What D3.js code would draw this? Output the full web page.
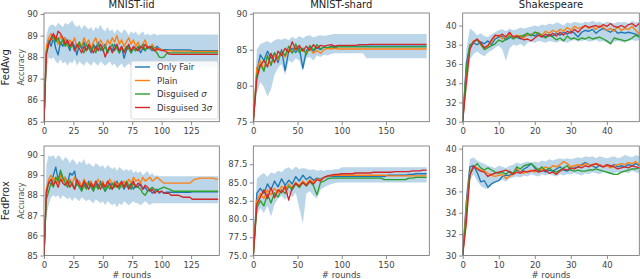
<!DOCTYPE html>
<html>
<head>
<meta charset="utf-8">
<script src="https://cdn.jsdelivr.net/npm/d3@7"></script>
<style>
  body { margin: 0; background: #fff; }
  svg { display: block; font-family: "DejaVu Sans", sans-serif; }
</style>
</head>
<body>
<svg id="chart" width="640" height="279"></svg>
<script>
// ---- data ----
const seriesNames = ["Only Fair", "Plain", "Disguised σ", "Disguised 3σ"];
const colTitles = ["MNIST-iid", "MNIST-shard", "Shakespeare"];
const rowTitles = ["FedAvg", "FedProx"];
const roundSteps = [2, 4, 1];       // rounds between stored points, per column
const roundMax = [149, 199, 49];

const xTicks = [[0, 25, 50, 75, 100, 125], [0, 50, 100, 150], [0, 10, 20, 30, 40]];
const yTicks = [
  [85, 86, 87, 88, 89, 90], [75, 80, 85, 90], [30, 32, 34, 36, 38, 40],
  [85, 86, 87, 88, 89, 90], [75, 77.5, 80, 82.5, 85, 87.5], [30, 32, 34, 36, 38, 40]
];
const yDomains = [[85, 90.05], [75, 90.1], [30, 41.3], [85, 90.45], [75, 90.0], [30, 40.25]];

// FedAvg / MNIST-iid (every 2 rounds)
const avgIidFair = [85.0, 88.3, 88.8, 88.5, 88.9, 88.4, 88.1, 88.7, 88.5, 88.9,
  88.6, 88.3, 88.7, 88.5, 88.1, 88.6, 88.4, 88.7, 88.3, 88.5,
  88.2, 88.6, 88.4, 88.7, 88.3, 88.5, 88.6, 88.2, 88.5, 88.3,
  88.6, 88.4, 88.2, 88.5, 87.95, 88.3, 88.5, 88.2, 88.4, 88.3,
  88.5, 88.2, 88.4, 88.3, 88.5, 88.4, 88.3, 88.4, 88.5, 88.4,
  88.35, 88.35, 88.35, 88.33, 88.33, 88.33, 88.33, 88.33, 88.33, 88.33,
  88.33, 88.33, 88.33, 88.3, 88.3, 88.3, 88.3, 88.3, 88.3, 88.3,
  88.3, 88.3, 88.3, 88.3, 88.3];
const avgIidPlain = [85.0, 88.5, 88.9, 89.1, 88.8, 89.0, 88.6, 89.0, 88.7, 88.9,
  88.5, 88.8, 88.6, 88.9, 88.4, 88.7, 88.5, 88.9, 88.6, 88.8,
  88.4, 88.7, 88.9, 88.5, 88.8, 88.6, 88.4, 88.8, 88.6, 88.9,
  88.7, 89.0, 88.6, 88.8, 88.5, 88.7, 88.9, 88.6, 88.8, 88.5,
  88.7, 88.4, 88.6, 88.8, 88.5, 88.4, 88.6, 88.4, 88.3, 88.4,
  88.35, 88.3, 88.3, 88.3, 88.3, 88.28, 88.28, 88.28, 88.28, 88.28,
  88.28, 88.28, 88.28, 88.26, 88.26, 88.26, 88.26, 88.26, 88.26, 88.26,
  88.26, 88.26, 88.26, 88.26, 88.26];
const avgIidSigma = [85.0, 88.2, 88.6, 88.8, 89.0, 88.7, 88.9, 88.6, 88.8, 88.5,
  88.7, 88.4, 88.6, 88.3, 88.5, 88.7, 88.4, 88.2, 88.6, 88.4,
  88.3, 88.5, 88.2, 88.6, 88.4, 88.3, 88.5, 88.2, 88.4, 88.6,
  88.3, 88.5, 88.2, 88.4, 88.3, 88.5, 88.4, 88.2, 88.4, 88.3,
  88.5, 88.4, 88.6, 88.3, 88.5, 88.4, 88.5, 88.3, 88.2, 88.0,
  87.98, 88.0, 88.15, 88.2, 88.2, 88.2, 88.2, 88.2, 88.2, 88.2,
  88.2, 88.2, 88.2, 88.2, 88.2, 88.2, 88.2, 88.2, 88.2, 88.2,
  88.2, 88.2, 88.2, 88.2, 88.2];
const avgIid3Sigma = [85.0, 88.1, 88.6, 88.9, 89.1, 88.8, 89.2, 89.1, 88.9, 88.6,
  88.8, 88.5, 88.7, 88.3, 88.6, 88.4, 88.2, 88.5, 88.3, 88.6,
  88.4, 88.2, 88.5, 88.3, 88.6, 88.4, 88.0, 88.3, 88.5, 88.2,
  88.4, 88.6, 88.3, 88.5, 88.2, 88.4, 88.6, 88.3, 88.5, 88.4,
  88.3, 88.5, 88.4, 88.6, 88.4, 88.5, 88.4, 88.3, 88.4, 88.35,
  88.3, 88.3, 88.25, 88.15, 88.13, 88.13, 88.13, 88.13, 88.13, 88.13,
  88.13, 88.13, 88.13, 88.13, 88.13, 88.13, 88.13, 88.13, 88.13, 88.13,
  88.13, 88.13, 88.13, 88.13, 88.13];
const avgIidHigh = [85.0, 89.0, 89.4, 89.5, 89.5, 89.4, 89.6, 89.5, 89.4, 89.6,
  89.5, 89.6, 89.7, 89.5, 89.4, 89.5, 89.3, 89.5, 89.4, 89.3,
  89.4, 89.2, 89.4, 89.3, 89.5, 89.3, 89.2, 89.4, 89.2, 89.3,
  89.1, 89.3, 89.2, 89.1, 89.3, 89.2, 89.0, 89.2, 89.1, 89.2,
  89.0, 89.1, 89.2, 89.0, 89.1, 89.0, 89.05, 89.1, 89.0, 89.05,
  89.05, 89.05, 89.05, 89.05, 89.05, 89.05, 89.05, 89.05, 89.05, 89.05,
  89.05, 89.05, 89.05, 89.05, 89.05, 89.05, 89.05, 89.05, 89.05, 89.05,
  89.05, 89.05, 89.05, 89.05, 89.05];
const avgIidLow = [85.0, 87.4, 88.0, 87.9, 88.0, 87.8, 87.7, 87.9, 87.7, 87.8,
  87.6, 87.8, 87.7, 87.9, 87.6, 87.8, 87.7, 87.6, 87.8, 87.7,
  87.6, 87.8, 87.7, 87.6, 87.8, 87.7, 87.6, 87.7, 87.8, 87.6,
  87.7, 87.5, 87.6, 87.7, 87.5, 87.6, 87.7, 87.6, 87.5, 87.6,
  87.6, 87.5, 87.6, 87.7, 87.6, 87.5, 87.6, 87.5, 87.6, 87.55,
  87.55, 87.55, 87.55, 87.55, 87.55, 87.55, 87.55, 87.55, 87.55, 87.55,
  87.55, 87.55, 87.55, 87.55, 87.55, 87.55, 87.55, 87.55, 87.55, 87.55,
  87.55, 87.55, 87.55, 87.55, 87.55];

// FedAvg / MNIST-shard (every 4 rounds)
const avgShardFair = [75.0, 82.0, 84.3, 83.5, 84.8, 83.8, 84.5, 83.2, 85.0, 82.1,
  84.8, 85.2, 84.6, 85.3, 82.4, 84.9, 85.4, 84.8, 85.3, 85.0,
  85.4, 85.2, 85.5, 85.4, 85.5, 85.5, 85.5, 85.5, 85.5, 85.5,
  85.5, 85.5, 85.5, 85.5, 85.5, 85.5, 85.5, 85.5, 85.5, 85.5,
  85.5, 85.5, 85.5, 85.5, 85.5, 85.5, 85.5, 85.5, 85.5, 85.5];
const avgShardPlain = [75.0, 82.5, 83.5, 82.2, 84.0, 83.0, 84.3, 83.6, 84.5, 84.0,
  85.0, 84.6, 85.3, 84.8, 85.0, 84.6, 85.2, 84.5, 84.9, 84.5,
  85.0, 85.2, 85.1, 85.2, 85.1, 85.1, 85.1, 85.1, 85.1, 85.1,
  85.1, 85.1, 85.1, 85.1, 85.1, 85.1, 85.1, 85.1, 85.1, 85.1,
  85.1, 85.1, 85.1, 85.1, 85.1, 85.1, 85.1, 85.1, 85.1, 85.1];
const avgShardSigma = [75.0, 81.5, 83.0, 82.0, 84.2, 82.8, 84.6, 83.8, 84.8, 84.2,
  85.5, 84.5, 85.8, 84.6, 85.2, 84.3, 85.6, 84.9, 85.7, 85.1,
  85.4, 85.3, 85.4, 85.3, 85.4, 85.4, 85.4, 85.4, 85.4, 85.4,
  85.4, 85.4, 85.4, 85.4, 85.4, 85.4, 85.4, 85.4, 85.4, 85.4,
  85.4, 85.4, 85.4, 85.4, 85.4, 85.4, 85.4, 85.4, 85.4, 85.4];
const avgShard3Sigma = [75.0, 81.0, 82.8, 83.5, 82.6, 84.5, 83.2, 84.8, 84.2, 85.2,
  84.6, 86.1, 85.0, 85.6, 84.8, 85.5, 84.9, 85.7, 85.2, 85.6,
  85.5, 85.6, 85.7, 85.5, 85.6, 85.6, 85.6, 85.6, 85.6, 85.6,
  85.7, 85.7, 85.7, 85.75, 85.75, 85.75, 85.75, 85.75, 85.75, 85.75,
  85.75, 85.75, 85.75, 85.75, 85.75, 85.75, 85.75, 85.75, 85.75, 85.75];
const avgShardHigh = [75.0, 85.0, 85.8, 86.0, 86.2, 85.9, 86.3, 86.5, 86.4, 86.6,
  86.3, 86.8, 86.5, 86.9, 86.6, 86.9, 87.0, 86.7, 86.9, 87.0,
  86.9, 87.0, 87.1, 87.2, 87.2, 87.2, 87.2, 87.2, 87.2, 87.2,
  87.2, 87.2, 87.2, 87.2, 87.2, 87.2, 87.2, 87.2, 87.2, 87.2,
  87.2, 87.2, 87.2, 87.2, 87.2, 87.2, 87.2, 87.2, 87.2, 87.2];
const avgShardLow = [75.0, 79.0, 80.5, 79.8, 78.5, 79.5, 81.5, 82.5, 83.0, 81.5,
  83.5, 83.2, 83.8, 83.5, 82.0, 83.8, 84.0, 83.5, 84.2, 84.0,
  84.3, 84.2, 84.4, 84.5, 84.5, 84.5, 84.5, 84.5, 84.5, 84.5,
  84.5, 84.5, 83.8, 83.8, 83.8, 83.8, 83.8, 83.8, 83.8, 83.8,
  83.8, 83.8, 83.8, 83.8, 83.8, 83.8, 83.8, 83.8, 83.8, 83.8];

// FedAvg / Shakespeare (every round)
const avgShakeFair = [30.0, 36.0, 38.0, 38.2, 38.0, 38.3, 38.1, 38.4, 38.0, 38.6,
  38.8, 38.9, 38.5, 38.7, 38.9, 38.8, 38.6, 38.9, 39.0, 39.1,
  38.9, 39.2, 39.0, 38.8, 39.1, 38.9, 39.2, 39.0, 39.3, 39.1,
  39.4, 39.2, 38.8, 39.3, 39.5, 39.4, 39.6, 39.2, 39.5, 39.7,
  39.5, 39.3, 39.6, 39.2, 39.3, 39.2, 39.3, 39.2, 39.1, 38.9];
const avgShakePlain = [30.0, 35.0, 37.8, 38.4, 38.5, 38.0, 37.6, 37.9, 38.3, 38.9,
  39.0, 38.6, 38.9, 39.1, 38.8, 39.0, 38.9, 38.7, 39.1, 39.0,
  39.3, 39.2, 39.0, 39.4, 39.2, 39.5, 39.3, 39.6, 39.4, 39.8,
  39.5, 39.9, 39.7, 39.8, 40.0, 39.7, 39.9, 39.6, 40.0, 39.8,
  39.5, 39.7, 39.4, 39.9, 39.5, 39.7, 39.6, 39.9, 39.5, 39.1];
const avgShakeSigma = [30.0, 35.5, 37.9, 38.3, 38.5, 38.1, 37.5, 37.7, 37.9, 38.1,
  38.5, 38.3, 38.6, 38.9, 38.6, 38.8, 38.9, 39.0, 39.2, 38.9,
  39.3, 39.2, 38.9, 38.7, 39.0, 38.8, 38.5, 38.7, 38.4, 38.9,
  38.6, 38.7, 38.5, 38.7, 38.6, 38.8, 38.6, 38.7, 38.8, 38.6,
  38.4, 38.1, 38.7, 38.6, 38.5, 38.4, 38.5, 38.7, 39.0, 38.8];
const avgShake3Sigma = [30.0, 34.0, 37.5, 38.3, 38.6, 38.2, 37.7, 37.9, 38.5, 39.0,
  38.9, 39.1, 38.8, 39.3, 38.8, 38.9, 38.7, 38.5, 38.6, 38.4,
  38.7, 39.0, 38.8, 39.1, 38.9, 39.2, 38.9, 39.3, 39.0, 39.4,
  39.2, 39.6, 39.3, 39.7, 40.0, 39.8, 39.9, 40.0, 39.8, 40.1,
  39.9, 40.2, 39.9, 39.8, 40.0, 39.8, 40.1, 40.2, 39.9, 40.2];
const avgShakeHigh = [30.0, 37.5, 39.7, 39.4, 39.0, 39.2, 38.9, 38.8, 39.1, 39.3,
  39.5, 39.6, 39.4, 39.7, 39.5, 39.6, 39.8, 39.7, 39.8, 39.9,
  40.0, 39.9, 40.1, 40.0, 40.2, 40.1, 40.3, 40.2, 40.0, 40.3,
  40.2, 40.4, 40.3, 40.2, 40.4, 40.3, 40.5, 40.3, 40.4, 40.2,
  40.4, 40.3, 40.2, 40.4, 40.3, 40.4, 40.2, 40.5, 40.3, 40.4];
const avgShakeLow = [30.0, 33.0, 36.5, 37.0, 37.3, 37.0, 36.8, 37.2, 37.4, 37.7,
  37.9, 37.5, 36.3, 37.6, 38.0, 37.9, 38.1, 37.8, 38.2, 38.3,
  38.2, 38.4, 38.3, 38.2, 38.4, 38.3, 38.2, 38.4, 38.3, 38.2,
  38.4, 38.5, 38.3, 38.4, 38.5, 38.3, 38.4, 38.5, 38.3, 38.4,
  38.2, 38.0, 38.3, 38.4, 38.3, 38.2, 38.4, 38.5, 38.4, 38.5];

// FedProx / MNIST-iid (every 2 rounds)
const proxIidFair = [85.0, 88.0, 88.7, 88.5, 89.0, 89.4, 88.8, 89.1, 88.7, 88.9,
  88.6, 89.1, 89.0, 89.2, 88.5, 88.7, 88.3, 88.6, 88.4, 88.7,
  88.5, 88.3, 88.6, 88.4, 88.7, 88.5, 88.2, 88.4, 88.6, 88.3,
  88.5, 88.7, 88.4, 88.6, 88.3, 88.5, 88.4, 88.6, 88.3, 88.5,
  88.4, 88.6, 88.3, 88.4, 88.2, 88.3, 88.1, 88.2, 88.3, 88.1,
  88.2, 88.1, 88.15, 88.15, 88.15, 88.15, 88.15, 88.15, 88.15, 88.15,
  88.15, 88.15, 88.15, 88.17, 88.17, 88.17, 88.17, 88.17, 88.17, 88.17,
  88.17, 88.17, 88.17, 88.17, 88.17];
const proxIidPlain = [85.0, 88.3, 88.8, 89.0, 88.7, 88.9, 88.6, 89.0, 88.7, 88.9,
  88.5, 88.8, 88.6, 88.9, 88.5, 88.7, 88.4, 88.8, 88.6, 88.5,
  88.7, 88.4, 88.6, 88.8, 88.5, 88.7, 88.4, 88.6, 88.8, 88.5,
  88.7, 88.5, 88.6, 88.4, 88.7, 88.5, 88.8, 88.6, 88.9, 88.7,
  88.8, 88.6, 88.9, 88.7, 88.8, 88.9, 88.7, 88.8, 88.9, 88.8,
  88.7, 88.6, 88.6, 88.6, 88.6, 88.6, 88.6, 88.6, 88.6, 88.6,
  88.6, 88.6, 88.6, 88.7, 88.8, 88.8, 88.85, 88.85, 88.85, 88.85,
  88.85, 88.85, 88.85, 88.8, 88.8];
const proxIidSigma = [85.0, 87.8, 88.2, 88.6, 88.4, 88.9, 88.7, 89.25, 88.9, 88.6,
  88.4, 88.7, 88.5, 88.3, 88.6, 88.4, 88.2, 88.5, 88.3, 88.6,
  88.4, 88.2, 88.5, 88.3, 88.6, 88.4, 88.2, 88.5, 88.3, 88.6,
  88.4, 88.5, 88.3, 88.6, 88.4, 88.7, 88.5, 88.3, 88.6, 88.4,
  88.4, 88.3, 88.1, 88.0, 88.2, 88.3, 88.4, 88.3, 88.2, 88.3,
  88.35, 88.4, 88.35, 88.3, 88.25, 88.2, 88.2, 88.2, 88.2, 88.2,
  88.2, 88.2, 88.2, 88.2, 88.2, 88.2, 88.2, 88.2, 88.2, 88.2,
  88.2, 88.2, 88.2, 88.2, 88.2];
const proxIid3Sigma = [85.0, 88.2, 88.6, 88.8, 88.5, 88.7, 88.4, 88.8, 88.6, 88.5,
  88.7, 88.4, 88.6, 88.3, 88.8, 88.5, 88.4, 88.7, 88.5, 88.3,
  88.6, 88.4, 88.7, 88.5, 88.3, 88.6, 88.4, 88.7, 88.5, 88.3,
  88.6, 88.4, 88.5, 88.7, 88.4, 88.6, 88.3, 88.5, 88.7, 88.4,
  88.6, 88.5, 88.3, 88.5, 88.4, 88.2, 88.3, 88.1, 88.2, 88.15,
  88.2, 88.1, 88.1, 88.1, 88.0, 88.0, 88.0, 88.0, 87.95, 87.9,
  87.9, 87.9, 87.9, 87.8, 87.8, 87.8, 87.8, 87.8, 87.8, 87.8,
  87.8, 87.8, 87.8, 87.8, 87.8];
const proxIidHigh = [85.0, 89.5, 90.0, 89.9, 90.0, 89.8, 90.0, 89.9, 89.7, 89.9,
  89.8, 89.6, 89.8, 89.7, 89.5, 89.7, 89.6, 89.8, 89.5, 89.6,
  89.5, 89.4, 89.6, 89.5, 89.4, 89.5, 89.3, 89.5, 89.4, 89.3,
  89.4, 89.2, 89.4, 89.3, 89.2, 89.3, 89.2, 89.3, 89.1, 89.2,
  89.1, 89.2, 89.0, 89.1, 89.2, 89.0, 89.1, 88.95, 89.0, 88.95,
  88.95, 88.95, 88.95, 88.95, 88.95, 88.95, 88.95, 88.95, 88.95, 88.95,
  88.95, 88.95, 88.95, 88.95, 88.95, 88.95, 88.95, 88.95, 88.95, 88.95,
  88.95, 88.95, 88.95, 88.95, 88.95];
const proxIidLow = [85.0, 87.0, 87.5, 87.9, 88.0, 87.9, 88.0, 87.8, 88.0, 87.9,
  87.8, 87.9, 87.7, 87.9, 87.8, 87.7, 87.9, 87.8, 87.7, 87.8,
  87.7, 87.6, 87.8, 87.7, 87.6, 87.7, 87.5, 87.7, 87.6, 87.5,
  87.6, 87.4, 87.6, 87.5, 87.7, 87.6, 87.5, 87.6, 87.7, 87.6,
  87.6, 87.5, 87.6, 87.7, 87.6, 87.5, 87.6, 87.6, 87.6, 87.6,
  87.6, 87.6, 87.6, 87.6, 87.6, 87.6, 87.6, 87.6, 87.6, 87.6,
  87.6, 87.6, 87.6, 87.6, 87.6, 87.6, 87.6, 87.6, 87.6, 87.6,
  87.6, 87.6, 87.6, 87.6, 87.6];

// FedProx / MNIST-shard (every 4 rounds)
const proxShardFair = [75.0, 83.5, 84.2, 83.5, 84.8, 84.0, 85.2, 84.4, 85.5, 84.6,
  85.3, 84.8, 85.8, 85.2, 86.0, 85.4, 85.8, 85.3, 85.6, 85.5,
  85.7, 85.8, 85.8, 85.8, 85.8, 85.8, 85.8, 85.8, 85.8, 85.8,
  85.8, 85.8, 85.8, 85.8, 85.8, 85.8, 85.8, 85.8, 86.0, 86.0,
  86.0, 86.0, 86.0, 86.0, 86.1, 86.1, 86.2, 86.2, 86.2, 86.2];
const proxShardPlain = [75.0, 82.5, 83.5, 82.8, 84.0, 83.3, 84.2, 83.6, 84.5, 84.0,
  84.8, 84.3, 85.0, 84.6, 85.2, 84.8, 85.4, 85.0, 85.5, 85.4,
  85.7, 85.9, 85.9, 86.0, 86.0, 86.0, 86.0, 86.0, 86.0, 86.0,
  86.0, 86.0, 86.0, 86.0, 86.0, 86.0, 86.0, 86.0, 85.9, 85.9,
  85.9, 85.9, 85.9, 85.9, 85.9, 85.9, 85.9, 85.9, 85.9, 85.9];
const proxShardSigma = [75.0, 81.5, 82.5, 81.8, 83.4, 82.2, 83.6, 83.0, 84.0, 83.5,
  84.5, 84.0, 84.8, 84.3, 85.0, 84.5, 85.1, 84.6, 83.3, 85.0,
  85.2, 85.5, 85.6, 85.6, 85.6, 85.6, 85.6, 85.6, 85.6, 85.6,
  85.6, 85.6, 85.6, 85.6, 85.6, 85.6, 85.6, 85.4, 85.4, 85.4,
  85.4, 85.4, 85.4, 85.4, 85.6, 85.6, 85.7, 85.7, 85.7, 85.7];
const proxShard3Sigma = [75.0, 82.0, 83.0, 84.0, 82.8, 84.3, 82.9, 84.0, 83.6, 84.5,
  82.6, 84.3, 84.9, 84.5, 85.0, 84.6, 85.2, 84.8, 85.4, 85.2,
  85.7, 85.9, 86.0, 86.1, 86.1, 86.2, 86.2, 86.2, 86.2, 86.3,
  86.3, 86.3, 86.3, 86.3, 86.4, 86.4, 86.4, 86.4, 86.4, 86.4,
  86.5, 86.5, 86.5, 86.5, 86.5, 86.6, 86.6, 86.6, 86.7, 86.7];
const proxShardHigh = [75.0, 85.5, 86.0, 86.3, 85.8, 86.4, 86.2, 86.6, 86.4, 86.9,
  87.1, 86.7, 87.2, 86.8, 87.0, 86.9, 86.7, 86.8, 86.6, 86.7,
  86.6, 86.7, 86.7, 86.8, 86.8, 87.1, 87.1, 87.1, 87.1, 87.1,
  87.1, 87.1, 87.1, 87.1, 87.1, 87.1, 87.1, 87.1, 87.1, 87.1,
  87.1, 87.1, 87.1, 87.1, 87.1, 87.1, 87.1, 87.1, 87.1, 87.1];
const proxShardLow = [75.0, 80.5, 81.5, 80.8, 81.8, 80.3, 82.0, 82.8, 83.2, 82.6,
  83.5, 83.0, 83.6, 81.5, 79.4, 83.5, 83.8, 83.2, 82.8, 84.0,
  84.3, 84.6, 84.8, 84.9, 85.0, 85.0, 85.0, 85.0, 85.0, 85.0,
  85.0, 85.0, 85.0, 85.0, 85.0, 85.0, 85.0, 85.0, 85.0, 85.0,
  85.0, 85.0, 85.0, 85.0, 85.0, 85.0, 85.0, 85.0, 85.0, 85.0];

// FedProx / Shakespeare (every round)
const proxShakeFair = [30.0, 35.0, 38.3, 38.4, 37.8, 36.9, 37.0, 36.4, 36.7, 36.9,
  37.0, 37.4, 37.5, 37.5, 37.7, 38.0, 37.8, 38.1, 38.3, 38.6,
  38.2, 37.9, 38.1, 37.8, 38.0, 37.9, 38.1, 38.3, 38.0, 37.9,
  38.1, 38.2, 38.3, 38.5, 38.7, 38.5, 38.4, 38.2, 38.5, 38.3,
  38.4, 38.3, 38.5, 38.3, 38.4, 38.3, 38.5, 38.4, 38.6, 38.4];
const proxShakePlain = [30.0, 34.5, 37.8, 38.3, 38.2, 38.0, 37.9, 37.7, 37.5, 37.4,
  37.5, 37.6, 37.2, 37.4, 37.6, 38.2, 37.8, 37.7, 37.9, 38.0,
  37.8, 38.1, 38.0, 38.3, 38.1, 38.4, 38.3, 38.5, 38.8, 38.6,
  38.3, 38.4, 38.5, 38.4, 38.6, 38.5, 38.4, 38.6, 38.5, 38.3,
  38.4, 38.2, 38.4, 38.5, 38.6, 38.5, 38.7, 38.6, 38.8, 38.5];
const proxShakeSigma = [30.0, 34.0, 37.6, 38.2, 38.6, 38.2, 38.0, 38.2, 38.0, 37.8,
  37.7, 37.8, 37.6, 37.9, 37.7, 38.3, 38.1, 38.4, 38.5, 38.6,
  38.3, 38.0, 38.3, 37.9, 38.2, 37.9, 37.8, 38.0, 38.2, 38.4,
  38.0, 37.9, 38.0, 37.9, 37.9, 38.0, 38.0, 38.1, 38.0, 37.9,
  37.8, 37.7, 37.6, 37.6, 37.8, 37.9, 38.0, 38.1, 38.1, 38.2];
const proxShake3Sigma = [30.0, 33.0, 37.5, 38.4, 38.1, 37.9, 37.8, 37.4, 37.6, 37.7,
  37.8, 37.9, 38.0, 37.8, 37.6, 37.8, 37.7, 37.9, 37.8, 37.9,
  38.0, 37.8, 37.9, 38.0, 37.7, 37.8, 37.6, 37.9, 38.1, 38.0,
  38.2, 38.1, 38.3, 38.2, 38.4, 38.3, 38.5, 38.6, 38.4, 38.3,
  38.5, 38.4, 38.3, 38.1, 38.2, 38.3, 38.2, 38.4, 38.3, 38.2];
const proxShakeHigh = [30.0, 36.0, 39.0, 39.2, 38.9, 38.7, 38.6, 38.4, 38.3, 38.2,
  38.4, 38.3, 38.2, 38.4, 38.5, 38.7, 38.6, 38.7, 38.8, 38.7,
  38.8, 38.7, 38.9, 38.8, 39.0, 38.9, 39.0, 39.1, 39.0, 39.1,
  39.0, 39.1, 39.2, 39.1, 39.3, 39.2, 39.3, 39.1, 39.3, 39.2,
  39.1, 39.2, 39.3, 39.1, 39.2, 39.4, 39.3, 39.2, 39.4, 39.3];
const proxShakeLow = [30.0, 32.5, 37.0, 37.6, 37.0, 36.5, 36.3, 36.2, 36.6, 36.8,
  37.0, 37.1, 36.9, 37.2, 37.3, 37.4, 37.3, 37.5, 37.4, 37.6,
  37.5, 37.4, 37.6, 37.5, 37.6, 37.5, 37.4, 37.6, 37.5, 37.6,
  37.6, 37.7, 37.6, 37.5, 37.7, 37.6, 37.8, 37.7, 37.6, 37.8,
  37.7, 37.6, 37.7, 37.8, 37.7, 37.8, 37.7, 37.9, 37.8, 37.7];

// ---- layout ----
const colors = ["#1f77b4", "#ff7f0e", "#2ca02c", "#d62728"];
const cols = [{ x0: 44, x1: 219.3 }, { x0: 253.3, x1: 429.3 }, { x0: 462.7, x1: 639.3 }];
const rows = [{ y0: 13, y1: 121.7 }, { y0: 146, y1: 255.5 }];
const spineColor = "#6e6e6e";
const tickText = "#444";

const panels = [
  { lines: [avgIidFair, avgIidPlain, avgIidSigma, avgIid3Sigma], lo: avgIidLow, hi: avgIidHigh },
  { lines: [avgShardFair, avgShardPlain, avgShardSigma, avgShard3Sigma], lo: avgShardLow, hi: avgShardHigh },
  { lines: [avgShakeFair, avgShakePlain, avgShakeSigma, avgShake3Sigma], lo: avgShakeLow, hi: avgShakeHigh },
  { lines: [proxIidFair, proxIidPlain, proxIidSigma, proxIid3Sigma], lo: proxIidLow, hi: proxIidHigh },
  { lines: [proxShardFair, proxShardPlain, proxShardSigma, proxShard3Sigma], lo: proxShardLow, hi: proxShardHigh },
  { lines: [proxShakeFair, proxShakePlain, proxShakeSigma, proxShake3Sigma], lo: proxShakeLow, hi: proxShakeHigh }
];

const svg = d3.select("#chart");
const defs = svg.append("defs");

panels.forEach((p, k) => {
  const r = Math.floor(k / 3), c = k % 3;
  const box = { x0: cols[c].x0, x1: cols[c].x1, y0: rows[r].y0, y1: rows[r].y1 };
  const step = roundSteps[c];
  const x = d3.scaleLinear().domain([0, roundMax[c]]).range([box.x0, box.x1]);
  const y = d3.scaleLinear().domain(yDomains[k]).range([box.y1, box.y0]);

  defs.append("clipPath").attr("id", "clip" + k)
    .append("rect").attr("x", box.x0).attr("y", box.y0)
    .attr("width", box.x1 - box.x0).attr("height", box.y1 - box.y0);

  const g = svg.append("g");
  const plot = g.append("g").attr("clip-path", `url(#clip${k})`);

  const area = d3.area()
    .x((d, i) => x(i * step))
    .y0((d, i) => y(p.lo[i]))
    .y1((d, i) => y(p.hi[i]));
  plot.append("path").datum(p.hi).attr("d", area)
    .attr("fill", "#1f77b4").attr("fill-opacity", 0.3);

  const line = d3.line().x((d, i) => x(i * step)).y(d => y(d));
  p.lines.forEach((s, j) => {
    plot.append("path").datum(s).attr("d", line)
      .attr("fill", "none").attr("stroke", colors[j])
      .attr("stroke-width", 1.35).attr("stroke-linejoin", "round");
  });

  // axes
  const fmt = k === 4 ? d3.format(".1f") : d3.format("d");
  const xAxis = g.append("g").attr("transform", `translate(0,${box.y1})`)
    .call(d3.axisBottom(x).tickValues(xTicks[c]).tickFormat(d3.format("d")).tickSize(3.5).tickPadding(2.5));
  const yAxis = g.append("g").attr("transform", `translate(${box.x0},0)`)
    .call(d3.axisLeft(y).tickValues(yTicks[k]).tickFormat(fmt).tickSize(3.5).tickPadding(2.5));
  [xAxis, yAxis].forEach(a => {
    a.select(".domain").remove();
    a.selectAll(".tick line").attr("stroke", spineColor).attr("stroke-width", 0.8);
    a.selectAll(".tick text").attr("fill", tickText).attr("font-size", 8.5)
      .attr("font-family", "DejaVu Sans, sans-serif");
  });

  g.append("rect").attr("x", box.x0).attr("y", box.y0)
    .attr("width", box.x1 - box.x0).attr("height", box.y1 - box.y0)
    .attr("fill", "none").attr("stroke", spineColor).attr("stroke-width", 0.8);

  if (r === 0) {
    g.append("text").attr("x", (box.x0 + box.x1) / 2).attr("y", 8)
      .attr("text-anchor", "middle").attr("font-size", 10).attr("fill", "#222")
      .text(colTitles[c]);
  } else {
    g.append("text").attr("x", (box.x0 + box.x1) / 2).attr("y", 277.5)
      .attr("text-anchor", "middle").attr("font-size", 8.5).attr("fill", tickText)
      .text("# rounds");
  }
  if (c === 0) {
    const cy = (box.y0 + box.y1) / 2;
    g.append("text").attr("transform", `translate(9,${cy}) rotate(-90)`)
      .attr("text-anchor", "middle").attr("font-size", 10).attr("fill", "#222")
      .text(rowTitles[r]);
    g.append("text").attr("transform", `translate(24,${cy}) rotate(-90)`)
      .attr("text-anchor", "middle").attr("font-size", 8).attr("fill", "#555")
      .text("Accuracy");
  }

  // legend in the first panel
  if (k === 0) {
    const lg = g.append("g");
    lg.append("rect").attr("x", 131).attr("y", 61).attr("width", 87).attr("height", 58)
      .attr("rx", 2).attr("fill", "#fff").attr("fill-opacity", 0.85)
      .attr("stroke", "#d0d0d0").attr("stroke-width", 0.8);
    seriesNames.forEach((name, j) => {
      const ly = 67 + j * 13.5;
      lg.append("line").attr("x1", 135).attr("x2", 150).attr("y1", ly).attr("y2", ly)
        .attr("stroke", colors[j]).attr("stroke-width", 1.4);
      const t = lg.append("text").attr("x", 157).attr("y", ly + 3)
        .attr("font-size", 8.5).attr("fill", "#333");
      if (name.endsWith("σ")) {
        t.append("tspan").text(name.slice(0, -1));
        t.append("tspan").attr("font-style", "italic").text("σ");
      } else {
        t.text(name);
      }
    });
  }
});
</script>
</body>
</html>
